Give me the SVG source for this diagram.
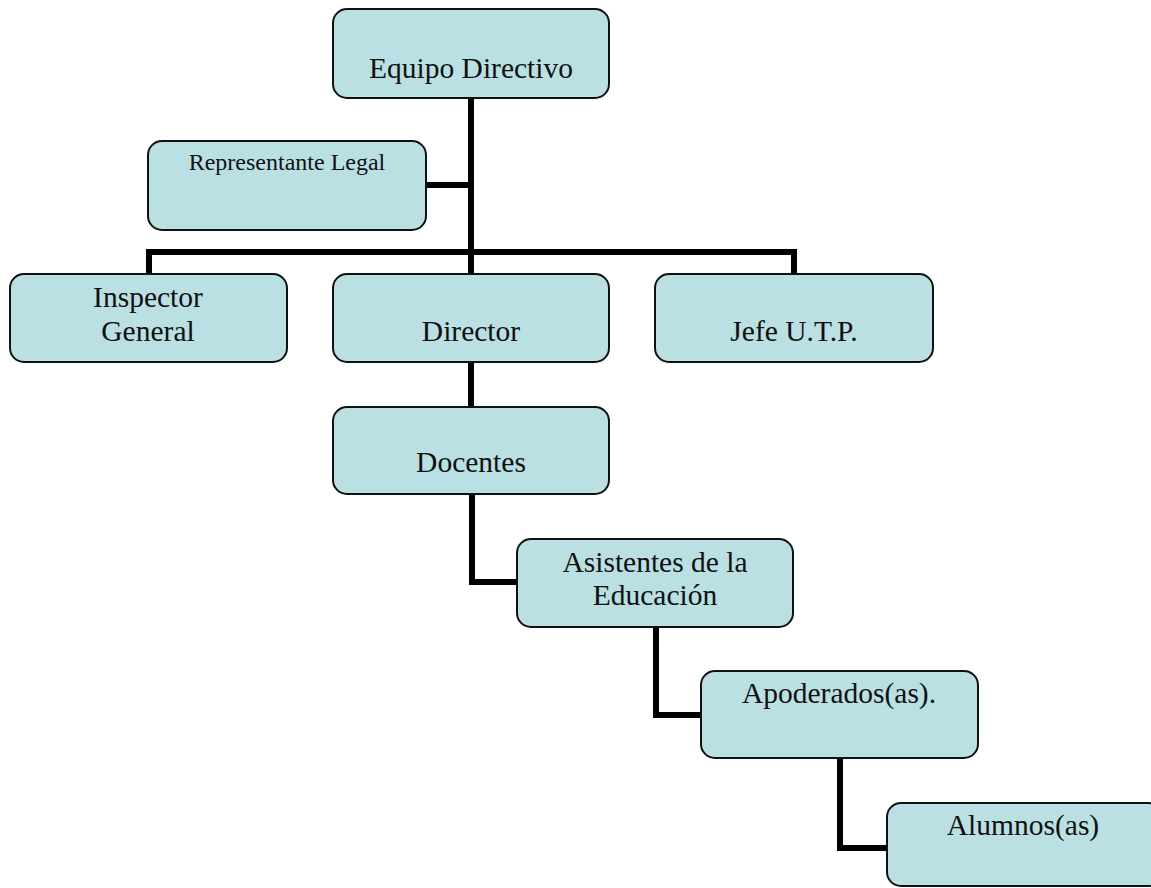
<svg xmlns="http://www.w3.org/2000/svg" width="1151" height="888" viewBox="0 0 1151 888">
<style>
.box{fill:#bae0e3;stroke:#111;stroke-width:2}
.t{font-family:"Liberation Serif","Times New Roman",serif;font-size:29.5px;fill:#111;text-anchor:middle}
.s{font-size:24px}
.c{fill:none;stroke:#000;stroke-width:6;stroke-linejoin:miter}
</style>
<rect width="1151" height="888" fill="#fff"/>
<g id="connectors">
<path class="c" d="M471,98 V275"/>
<path class="c" d="M426,185 H471"/>
<path class="c" d="M149,275 V252 H794 V275"/>
<path class="c" d="M471,362 V407"/>
<path class="c" d="M472,494 V582 H517"/>
<path class="c" d="M656,627 V715 H701"/>
<path class="c" d="M840,758 V848 H887"/>
</g>
<g id="equipo"><rect class="box" x="333" y="9" width="276" height="89" rx="14"/><text class="t" x="471" y="78">Equipo Directivo</text></g>
<g id="representante"><rect class="box" x="148" y="141" width="278" height="89" rx="14"/><text class="t s" x="287" y="170">Representante Legal</text></g>
<g id="inspector"><rect class="box" x="10" y="274" width="277" height="88" rx="14"/><text class="t" x="148" y="307">Inspector</text><text class="t" x="148" y="341">General</text></g>
<g id="director"><rect class="box" x="333" y="274" width="276" height="88" rx="14"/><text class="t" x="471" y="341">Director</text></g>
<g id="jefe"><rect class="box" x="655" y="274" width="278" height="88" rx="14"/><text class="t" x="794" y="341">Jefe U.T.P.</text></g>
<g id="docentes"><rect class="box" x="333" y="407" width="276" height="87" rx="14"/><text class="t" x="471" y="472">Docentes</text></g>
<g id="asistentes"><rect class="box" x="517" y="539" width="276" height="88" rx="14"/><text class="t" x="655" y="572">Asistentes de la</text><text class="t" x="655" y="605">Educación</text></g>
<g id="apoderados"><rect class="box" x="701" y="671" width="277" height="87" rx="14"/><text class="t" x="839" y="703">Apoderados(as).</text></g>
<g id="alumnos"><rect class="box" x="887" y="803" width="275" height="83" rx="14"/><text class="t" x="1023" y="835">Alumnos(as)</text></g>
</svg>
